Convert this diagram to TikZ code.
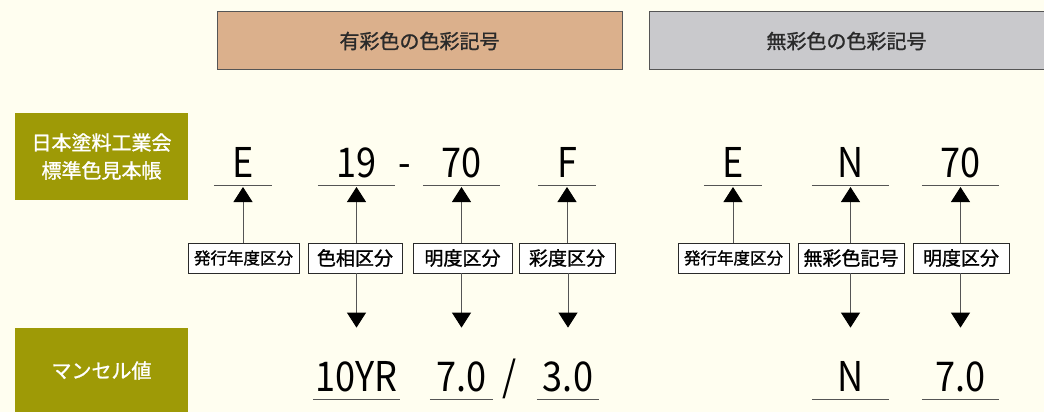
\documentclass[tikz,border=0pt]{standalone}
\usepackage{fontspec}
\setmainfont{Noto Sans CJK JP}
\newfontfamily\jpb{Noto Sans CJK JP}[FakeBold=1.2]
\newfontfamily\valfont{Noto Sans CJK JP}[FakeStretch=0.88]
\usetikzlibrary{arrows.meta}
\definecolor{bg}{HTML}{FFFEF0}
\definecolor{brownc}{HTML}{DBB08C}
\definecolor{grayc}{HTML}{C9C9CC}
\definecolor{olivec}{HTML}{9E9A06}
\definecolor{linec}{HTML}{555555}
\definecolor{txtc}{HTML}{2A2A2A}
\begin{document}
\begin{tikzpicture}[x=1pt,y=-1pt,
  hdr/.style={draw=txtc!80, line width=1pt, minimum height=58pt, inner sep=0pt, text=txtc, font=\jpb\fontsize{20}{24}\selectfont},
  olivebox/.style={fill=olivec, minimum width=173pt, inner sep=0pt, text=white, align=center, font=\jpb\fontsize{20}{28}\selectfont},
  val/.style={anchor=south, inner xsep=0pt, inner ysep=7pt, text height=30pt, text depth=0pt, font=\valfont\fontsize{41}{41}\selectfont},
  uline/.style={draw=linec, line width=0.9pt},
  lab/.style={draw=txtc, fill=white, line width=0.9pt, minimum height=30pt, inner xsep=0pt, inner ysep=0pt, font=\jpb\fontsize{19}{19}\selectfont},
  arr/.style={draw=linec, line width=0.9pt, -{Triangle[width=19pt,length=15pt,fill=black,color=black]}}
]
\fill[bg] (0,0) rectangle (1044,412);
\useasboundingbox (0,0) rectangle (1044,412);

% headers
\node[hdr, fill=brownc, minimum width=405pt] (h1) at (419.5,41) {有彩色の色彩記号};
\node[hdr, fill=grayc, minimum width=395pt] (h2) at (846.5,41) {無彩色の色彩記号};

% left olive boxes
\node[olivebox, minimum height=87pt] (jp) at (101.5,156.5) {日本塗料工業会\\標準色見本帳};
\node[olivebox, minimum height=85pt] (mu) at (101.5,370.5) {マンセル値};

% top values
\node[val, minimum width=58pt] (t1) at (243,185) {E};
\node[val, minimum width=77pt] (t2) at (356.5,185) {19};
\node[val] (dash) at (405,185) {-};
\node[val, minimum width=77pt] (t3) at (461.5,185) {70};
\node[val, minimum width=58pt] (t4) at (567,185) {F};
\node[val, minimum width=58pt] (t5) at (733,185) {E};
\node[val, minimum width=77pt] (t6) at (850.5,185) {N};
\node[val, minimum width=77pt] (t7) at (960.5,185) {70};
\foreach \n in {t1,t2,t3,t4,t5,t6,t7}{\draw[uline] (\n.south west) -- (\n.south east);}

% bottom values
\node[val, minimum width=87pt] (b2) at (356.5,399) {10YR};
\node[val, minimum width=63pt] (b3) at (461.5,399) {7.0};
\node[val] (slash) at (510,399) {/};
\node[val, minimum width=62pt] (b4) at (568,399) {3.0};
\node[val, minimum width=77pt] (b6) at (850.5,399) {N};
\node[val, minimum width=77pt] (b7) at (960.5,399) {7.0};
\foreach \n in {b2,b3,b4,b6,b7}{\draw[uline] (\n.south west) -- (\n.south east);}

% labels
\node[lab, minimum width=111pt, font=\jpb\fontsize{16.5}{16.5}\selectfont] (l1) at (243.5,258) {発行年度区分};
\node[lab, minimum width=94pt] (l2) at (355,258) {色相区分};
\node[lab, minimum width=99pt] (l3) at (462.5,258) {明度区分};
\node[lab, minimum width=96pt] (l4) at (567,258) {彩度区分};
\node[lab, minimum width=111pt, font=\jpb\fontsize{16.5}{16.5}\selectfont] (l5) at (733.5,258) {発行年度区分};
\node[lab, minimum width=106pt] (l6) at (851,258) {無彩色記号};
\node[lab, minimum width=96pt] (l7) at (961,258) {明度区分};

% up arrows
\foreach \l/\t in {l1/t1,l2/t2,l3/t3,l4/t4,l5/t5,l6/t6,l7/t7}{
  \draw[arr, shorten >=2pt] (\t.south |- \l.north) -- (\t.south);
}
% down arrows
\foreach \l/\b in {l2/b2,l3/b3,l4/b4,l6/b6,l7/b7}{
  \draw[arr, shorten >=27pt] (\b.north |- \l.south) -- (\b.north);
}
\end{tikzpicture}
\end{document}
